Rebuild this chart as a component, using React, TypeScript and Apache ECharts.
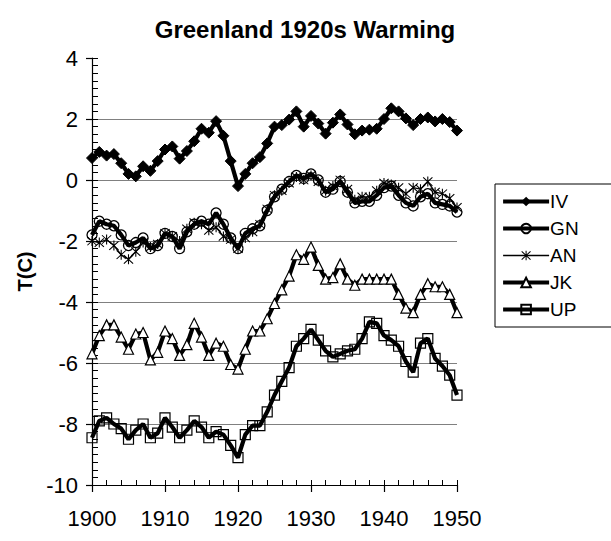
import React, { useEffect, useRef } from "react";
import * as echarts from "echarts";

const TITLE = "Greenland 1920s Warming";
const Y_NAME = "T(C)";
const YEAR_START = 1900;
const YEAR_END = 1950;

const IV = [0.72, 0.92, 0.8, 0.85, 0.55, 0.2, 0.12, 0.45, 0.3, 0.62, 1.0, 1.1, 0.7, 0.95, 1.27, 1.68, 1.55, 1.93, 1.45, 0.62, -0.2, 0.2, 0.55, 0.75, 1.2, 1.75, 1.8, 1.98, 2.25, 1.75, 2.1, 1.85, 1.52, 1.88, 2.15, 1.82, 1.5, 1.62, 1.65, 1.68, 2.0, 2.35, 2.25, 2.02, 1.8, 2.0, 2.05, 1.92, 2.0, 1.9, 1.62];
const GN = [-1.8, -1.35, -1.45, -1.5, -1.8, -2.15, -2.05, -1.9, -2.25, -2.15, -1.75, -1.85, -2.25, -1.7, -1.45, -1.35, -1.45, -1.08, -1.45, -1.9, -2.25, -1.75, -1.6, -1.5, -1.0, -0.55, -0.3, -0.05, 0.15, 0.05, 0.2, 0.0, -0.4, -0.3, -0.05, -0.4, -0.75, -0.7, -0.7, -0.5, -0.25, -0.2, -0.5, -0.75, -0.85, -0.55, -0.45, -0.75, -0.8, -0.85, -1.05];
const AN = [-2.0, -2.05, -1.95, -2.15, -2.45, -2.6, -2.35, -2.05, -2.2, -2.1, -1.75, -1.85, -2.0, -1.6, -1.4, -1.45, -1.65, -1.55, -1.85, -1.95, -2.25, -1.9, -1.7, -1.45, -0.95, -0.5, -0.35, -0.1, 0.1, 0.0, 0.15, -0.05, -0.35, -0.2, 0.0, -0.3, -0.65, -0.55, -0.55, -0.35, -0.1, -0.15, -0.25, -0.45, -0.25, -0.3, -0.05, -0.4, -0.45, -0.6, -0.9];
const JK = [-5.7, -5.1, -4.75, -4.75, -5.15, -5.55, -5.05, -5.0, -5.9, -5.65, -4.95, -5.2, -5.75, -5.4, -4.7, -5.15, -5.75, -5.35, -5.45, -6.05, -6.2, -5.55, -4.95, -4.95, -4.55, -4.05, -3.6, -3.15, -2.45, -2.6, -2.2, -2.8, -3.25, -3.2, -2.75, -3.25, -3.45, -3.25, -3.25, -3.25, -3.25, -3.25, -3.75, -4.2, -4.35, -3.75, -3.4, -3.5, -3.5, -3.75, -4.35];
const UP = [-8.45, -7.9, -7.8, -8.0, -8.15, -8.5, -8.2, -8.0, -8.45, -8.3, -7.8, -8.1, -8.45, -8.2, -7.9, -8.1, -8.45, -8.25, -8.35, -8.7, -9.1, -8.35, -8.05, -8.05, -7.6, -7.05, -6.6, -6.15, -5.45, -5.2, -4.9, -5.25, -5.6, -5.8, -5.7, -5.6, -5.55, -5.2, -4.65, -4.7, -5.1, -5.25, -5.45, -5.95, -6.3, -5.35, -5.2, -5.85, -6.1, -6.4, -7.05];

const SERIES_NAMES = ["IV", "GN", "AN", "JK", "UP"];
const SERIES_VALUES = [IV, GN, AN, JK, UP];

const ASTERISK =
  "path://M4.5 0H5.5V10H4.5Z M0.4 1.1L1.1 0.4L9.6 8.9L8.9 9.6Z M8.9 0.4L9.6 1.1L1.1 9.6L0.4 8.9Z";

const FONT = "'Liberation Sans', Arial, sans-serif";

export default function App() {
  const ref = useRef<HTMLDivElement>(null);
  useEffect(() => {
    document.body.style.margin = "0";
    const chart = echarts.init(ref.current!, null, { renderer: "svg" });
    const toPairs = (arr: number[]) => arr.map((v, i) => [YEAR_START + i, v]);
    const styles: any[] = [
      { symbol: "diamond", symbolSize: 11, width: 4.2, item: { color: "#000", borderColor: "#000" } },
      { symbol: "circle", symbolSize: 10, width: 4.2, item: { color: "transparent", borderColor: "#000", borderWidth: 1.3 } },
      { symbol: ASTERISK, symbolSize: 10, width: 1.3, item: { color: "#000", borderColor: "#000", borderWidth: 0 } },
      { symbol: "triangle", symbolSize: 10, width: 4.2, item: { color: "#fff", borderColor: "#000", borderWidth: 1.2 } },
      { symbol: "rect", symbolSize: 10, width: 4.2, item: { color: "transparent", borderColor: "#000", borderWidth: 1.2 } },
    ];
    const series = SERIES_NAMES.map((name, i) => ({
      name,
      type: "line",
      xAxisIndex: 0,
      yAxisIndex: 0,
      data: toPairs(SERIES_VALUES[i]),
      symbol: styles[i].symbol,
      symbolSize: styles[i].symbolSize,
      showAllSymbol: true,
      lineStyle: { color: "#000", width: styles[i].width },
      itemStyle: styles[i].item,
      z: 2,
    }));
    chart.setOption({
      animation: false,
      backgroundColor: "#fff",
      title: {
        text: TITLE,
        left: 300,
        textAlign: "center",
        top: 12,
        textStyle: { fontFamily: FONT, fontSize: 24, fontWeight: "bold", color: "#000" },
      },
      legend: {
        orient: "vertical",
        left: 495,
        top: 184,
        data: SERIES_NAMES.map((name, i) => ({
          name,
          lineStyle: { width: styles[i].width, color: "#000" },
        })),
        itemWidth: 46,
        itemHeight: 12,
        itemGap: 8,
        padding: [8, 60, 8, 6],
        borderColor: "#000",
        borderWidth: 1,
        backgroundColor: "#fff",
        textStyle: { fontFamily: FONT, fontSize: 19, color: "#000", padding: [0, 0, 0, -4] },
      },
      grid: { left: 92, right: 154, top: 58, bottom: 56, containLabel: false },
      xAxis: [
        {
          type: "value",
          min: YEAR_START,
          max: YEAR_END,
          interval: 10,
          axisLine: { show: true, onZero: false, lineStyle: { color: "#000", width: 1.2 } },
          axisTick: { show: true, length: 7, lineStyle: { color: "#000", width: 1.2 } },
          axisLabel: { fontFamily: FONT, fontSize: 22, color: "#000", margin: 22, formatter: (v: number) => String(v) },
          splitLine: { show: false },
        },
        {
          type: "value",
          min: YEAR_START,
          max: YEAR_END,
          interval: 2,
          position: "bottom",
          axisLine: { show: false, onZero: false },
          axisTick: { show: true, inside: true, length: 5, lineStyle: { color: "#000", width: 1 } },
          axisLabel: { show: false },
          splitLine: { show: false },
        },
      ],
      yAxis: [
        {
          type: "value",
          min: -10,
          max: 4,
          interval: 2,
          name: Y_NAME,
          nameLocation: "middle",
          nameRotate: 90,
          nameGap: 56,
          nameTextStyle: { fontFamily: FONT, fontSize: 20, fontWeight: "bold", color: "#000" },
          axisLine: { show: true, onZero: false, lineStyle: { color: "#000", width: 1.2 } },
          axisTick: { show: true, length: 6, lineStyle: { color: "#000", width: 1.2 } },
          axisLabel: { fontFamily: FONT, fontSize: 22, color: "#000", margin: 14 },
          splitLine: { show: true, showMaxLine: false, showMinLine: false, lineStyle: { color: "#808080", width: 1.2 } },
        },
        {
          type: "value",
          min: -10,
          max: 4,
          interval: 0.25,
          position: "left",
          axisLine: { show: false, onZero: false },
          axisTick: { show: true, inside: true, length: 6, lineStyle: { color: "#000", width: 1 } },
          axisLabel: { show: false },
          splitLine: { show: false },
        },
      ],
      series,
    });
    return () => chart.dispose();
  }, []);
  return <div ref={ref} style={{ width: 611, height: 541 }} />;
}
